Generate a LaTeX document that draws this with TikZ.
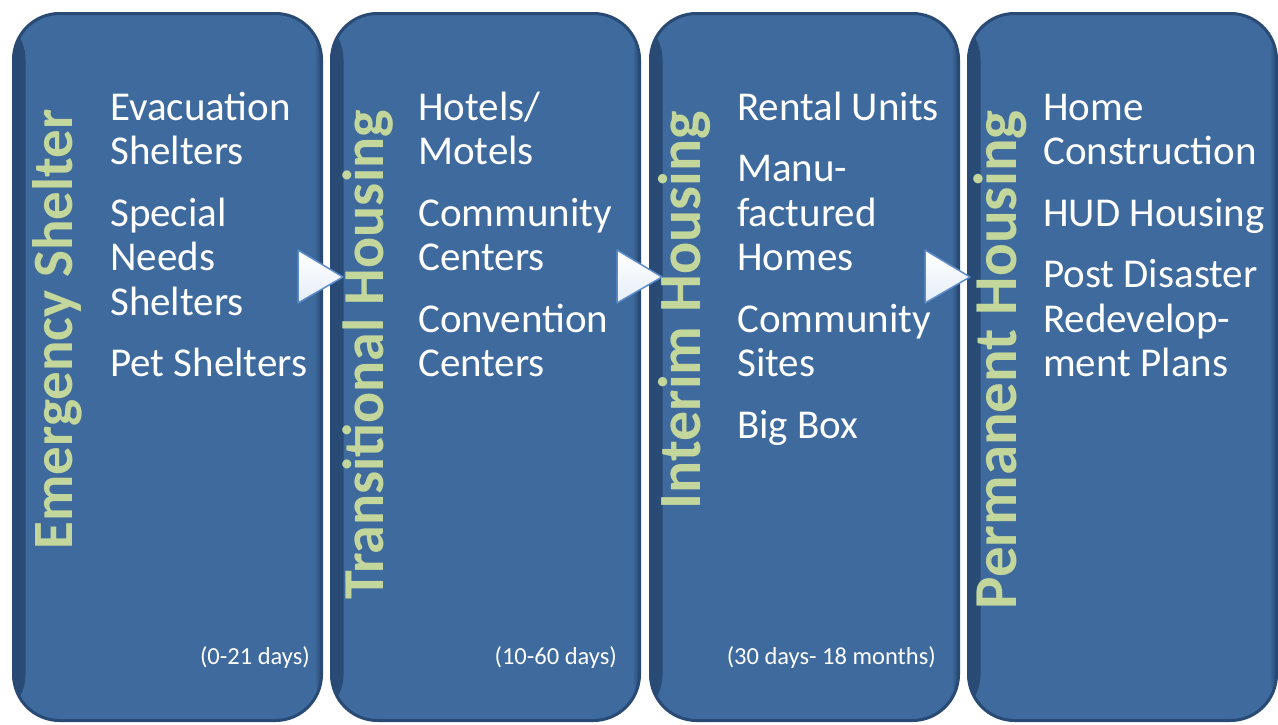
\documentclass[tikz,border=0pt]{standalone}
\usepackage{fontspec}
\setmainfont{Carlito}
\usetikzlibrary{calc}

\definecolor{stagefill}{HTML}{3E6A9D}
\definecolor{stageedge}{HTML}{284A74}
\definecolor{stagetitle}{HTML}{C3D69B}
\definecolor{arrowedge}{HTML}{5B8BC9}
\definecolor{arrowtint}{HTML}{E6EEF8}

\tikzset{
  stagebox/.style={draw=stageedge, line width=3pt, fill=stagefill,
    rounded corners=46pt, minimum width=308pt, minimum height=707pt,
    inner sep=0pt, outer sep=0pt,
    path picture={
      % darker bevel down the left and right edges
      \shade[left color=stageedge, right color=stagefill]
        (path picture bounding box.south west) rectangle ([xshift=12pt]path picture bounding box.north west);
      \shade[left color=stagefill, right color=stageedge]
        ([xshift=-7pt]path picture bounding box.south east) rectangle (path picture bounding box.north east);
    }},
  stagename/.style={text=stagetitle, font=\fontsize{#1}{#1}\selectfont\bfseries,
    rotate=90, anchor=base east, inner sep=0pt},
  stagename/.default=58,
  stageitems/.style={text=white, font=\fontsize{41}{44.5}\selectfont,
    align=left, anchor=north west, inner sep=0pt},
  stagedays/.style={text=white, font=\fontsize{24.5}{26}\selectfont,
    anchor=base east, inner sep=0pt},
  steparrow/.style={draw=arrowedge, line width=1.5pt, line join=round,
    top color=white, bottom color=arrowtint},
}

\begin{document}
\begin{tikzpicture}[x=1pt, y=-1pt]
\useasboundingbox (0,0) rectangle (1278,724);

% the four stages
\node[stagebox] (emergency) at (167.5,367) {};
\node[stagebox] (transitional) at (485.5,367) {};
\node[stagebox] (interim) at (804.5,367) {};
\node[stagebox] (permanent) at (1122.5,367) {};

% stage names, read upwards
\node[stagename=57] (emergency-name) at (72,109) {Emergency Shelter};
\node[stagename=58] (transitional-name) at (383,110) {Transitional Housing};
\node[stagename=60] (interim-name) at (700,111) {Interim Housing};
\node[stagename=61] (permanent-name) at (1016,110) {Permanent Housing};

% what each stage offers (\strut fixes the first baseline)
\node[stageitems] (emergency-list) at (110,88.85)
  {\strut Evacuation\\Shelters\\[17pt]Special\\Needs\\Shelters\\[17pt]Pet Shelters};
\node[stageitems] (transitional-list) at (418,88.85)
  {\strut Hotels/\\Motels\\[17pt]Community\\Centers\\[17pt]Convention\\Centers};
\node[stageitems] (interim-list) at (737,88.85)
  {\strut Rental Units\\[17pt]Manu-\\factured\\Homes\\[17pt]Community\\Sites\\[17pt]Big Box};
\node[stageitems] (permanent-list) at (1043,88.85)
  {\strut Home\\Construction\\[17pt]HUD Housing\\[17pt]Post Disaster\\Redevelop-\\ment Plans};

% how long each stage lasts
\node[stagedays] (emergency-days) at (310,664) {(0-21 days)};
\node[stagedays] (transitional-days) at (617,664) {(10-60 days)};
\node[stagedays] (interim-days) at (936,664) {(30 days- 18 months)};

% arrows from one stage to the next
\coordinate (a1) at ($(emergency.east)+(-23.5,-90)$);
\coordinate (a2) at ($(transitional.east)+(-22.5,-90)$);
\coordinate (a3) at ($(interim.east)+(-33.5,-90)$);
\draw[steparrow] (a1) ++(0,-27) -- ++(45,27) -- ++(-45,26) -- cycle;
\draw[steparrow] (a2) ++(0,-27) -- ++(45,27) -- ++(-45,26) -- cycle;
\draw[steparrow] (a3) ++(0,-27) -- ++(45,27) -- ++(-45,26) -- cycle;
\end{tikzpicture}
\end{document}
